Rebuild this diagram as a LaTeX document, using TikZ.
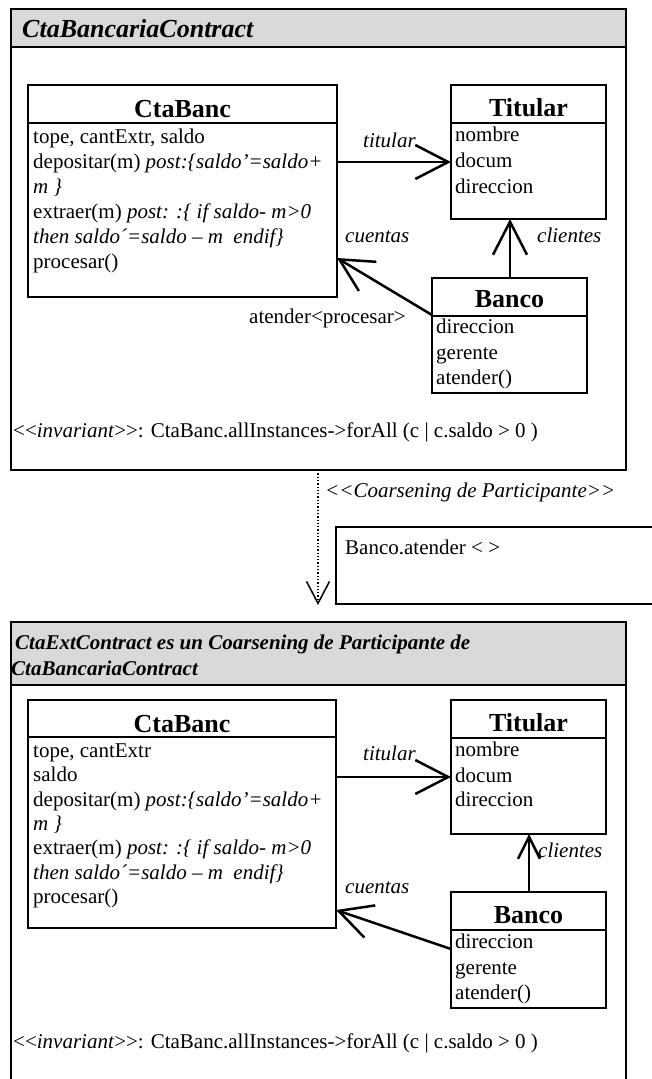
\documentclass[tikz,border=0pt]{standalone}
\usepackage{fontspec}
\setmainfont{Liberation Serif}[Ligatures=TeXOff]
\usetikzlibrary{arrows.meta}
\definecolor{hdrgray}{RGB}{217,217,217}
\begin{document}
\begin{tikzpicture}[x=1pt,y=-1pt,
  pkg/.style={draw, line width=2pt, inner sep=0pt, outer sep=0pt, anchor=north west},
  hdr/.style={fill=hdrgray, draw, line width=2pt, inner sep=0pt, outer sep=0pt, anchor=north west},
  box/.style={draw, line width=2.5pt, inner sep=0pt, outer sep=0pt, anchor=north west},
  sep/.style={line width=2.5pt},
  txt/.style={inner sep=0pt, anchor=base west, font=\fontsize{21}{25}\selectfont},
  ttl/.style={inner sep=0pt, anchor=base, font=\fontsize{26}{30}\selectfont\bfseries},
  lbl/.style={inner sep=0pt, anchor=base west, font=\fontsize{21}{25}\selectfont\itshape},
  ptitle/.style={inner sep=0pt, anchor=base west, font=\fontsize{26}{30}\selectfont\bfseries\itshape},
  ptitlesm/.style={inner sep=0pt, anchor=base west, font=\fontsize{21}{25}\selectfont\bfseries\itshape},
  assoc/.style={line width=2.5pt, -{Straight Barb[length=33pt,width=34pt]}},
  assocsm/.style={line width=2.5pt, -{Straight Barb[length=22pt,width=22pt]}},
  refine/.style={line width=1.3pt, dotted, -{Straight Barb[length=22pt,width=23pt,line width=1.5pt]}},
]
\useasboundingbox (0,0) rectangle (652,1079);
\fill[white] (0,0) rectangle (652,1079);

% ---------- top package ----------
\node[pkg, minimum width=615pt, minimum height=461pt] (pk1) at (11,9) {};
\node[hdr, minimum width=615pt, minimum height=38pt] (pk1h) at (11,9) {};
\node[ptitle] (pk1t) at (22,37) {CtaBancariaContract};

% CtaBanc (top)
\node[box, minimum width=309pt, minimum height=212pt] (cb1) at (28,85) {};
\draw[sep] (28,123) -- (337,123);
\node[ttl] (cb1t) at (182.5,117) {CtaBanc};
\node[txt] (cb1a) at (33,143) {tope, cantExtr, saldo};
\node[txt] (cb1b) at (33,168) {depositar(m) \textit{post:\{saldo’=saldo+}};
\node[txt] (cb1c) at (33,193) {\textit{m \}}};
\node[txt] (cb1d) at (33,218) {extraer(m) \textit{post: :\{ if saldo- m>0}};
\node[txt] (cb1e) at (33,243) {\textit{then saldo´=saldo – m\ \ endif\}}};
\node[txt] (cb1f) at (33,268) {procesar()};

% Titular (top)
\node[box, minimum width=155pt, minimum height=134pt] (ti1) at (451,85) {};
\draw[sep] (451,123) -- (606,123);
\node[ttl] (ti1t) at (528.5,116) {Titular};
\node[txt] (ti1a) at (455,141) {nombre};
\node[txt] (ti1b) at (455,167) {docum};
\node[txt] (ti1c) at (455,193) {direccion};

% Banco (top)
\node[box, minimum width=155pt, minimum height=115pt] (ba1) at (432,278) {};
\draw[sep] (432,316) -- (587,316);
\node[ttl] (ba1t) at (509.5,307) {Banco};
\node[txt] (ba1a) at (436,333) {direccion};
\node[txt] (ba1b) at (436,359) {gerente};
\node[txt] (ba1c) at (436,384) {atender()};

% connectors (top)
\coordinate (c1s) at (337,162);
\coordinate (c1e) at (451,162);
\draw[assoc] (c1s) -- (c1e);
\coordinate (c2s) at (510,278);
\coordinate (c2e) at (510,219);
\draw[assoc] (c2s) -- (c2e);
\coordinate (c3s) at (432,315);
\coordinate (c3e) at (337,258);
\draw[assoc] (c3s) -- (c3e);
\node[lbl] (l1) at (363,147) {titular};
\node[lbl] (l2) at (345,242) {cuentas};
\node[lbl] (l3) at (537,242) {clientes};
\node[txt] (l4) at (249,323) {atender<procesar>};
\node[txt] (inv1) at (13,437) {<<\textit{invariant}>>: CtaBanc.allInstances->forAll (c | c.saldo > 0 )};

% ---------- refinement ----------
\coordinate (r1) at (318,470);
\coordinate (r2) at (318,605);
\draw[refine] (r1) -- (r2);
\node[lbl] (rl) at (325,497) {<<Coarsening de Participante>>};
\draw[line width=2pt] (660,527) -- (336,527) -- (336,604) -- (660,604);
\node[txt] (note) at (345,554) {Banco.atender < >};

% ---------- bottom package ----------
\fill[hdrgray] (11,622) rectangle (626,685);
\draw[line width=2pt] (11,1085) -- (11,622) -- (626,622) -- (626,1085);
\draw[line width=2pt] (11,685) -- (626,685);
\node[ptitlesm] (pk2a) at (15,649) {CtaExtContract es un Coarsening de Participante de};
\node[ptitlesm] (pk2b) at (11,675) {CtaBancariaContract};

% CtaBanc (bottom)
\node[box, minimum width=308pt, minimum height=228pt] (cb2) at (28,700) {};
\draw[sep] (28,737) -- (336,737);
\node[ttl] (cb2t) at (182,732) {CtaBanc};
\node[txt] (cb2a) at (33,757) {tope, cantExtr};
\node[txt] (cb2b) at (33,781) {saldo};
\node[txt] (cb2c) at (33,806) {depositar(m) \textit{post:\{saldo’=saldo+}};
\node[txt] (cb2d) at (33,830) {\textit{m \}}};
\node[txt] (cb2e) at (33,854) {extraer(m) \textit{post: :\{ if saldo- m>0}};
\node[txt] (cb2f) at (33,879) {\textit{then saldo´=saldo – m\ \ endif\}}};
\node[txt] (cb2g) at (33,903) {procesar()};

% Titular (bottom)
\node[box, minimum width=155pt, minimum height=134pt] (ti2) at (451,700) {};
\draw[sep] (451,738) -- (606,738);
\node[ttl] (ti2t) at (528.5,731) {Titular};
\node[txt] (ti2a) at (455,756) {nombre};
\node[txt] (ti2b) at (455,782) {docum};
\node[txt] (ti2c) at (455,806) {direccion};

% Banco (bottom)
\node[box, minimum width=155pt, minimum height=116pt] (ba2) at (451,892) {};
\draw[sep] (451,930) -- (606,930);
\node[ttl] (ba2t) at (528.5,923) {Banco};
\node[txt] (ba2a) at (455,948) {direccion};
\node[txt] (ba2b) at (455,974) {gerente};
\node[txt] (ba2c) at (455,999) {atender()};

% connectors (bottom)
\coordinate (d1s) at (336,777);
\coordinate (d1e) at (451,777);
\draw[assoc] (d1s) -- (d1e);
\coordinate (d2s) at (529,892);
\coordinate (d2e) at (529,834);
\draw[assocsm] (d2s) -- (d2e);
\coordinate (d3s) at (451,949);
\coordinate (d3e) at (336,910);
\draw[assoc] (d3s) -- (d3e);
\node[lbl] (m1) at (363,760) {titular};
\node[lbl] (m2) at (345,893) {cuentas};
\node[lbl] (m3) at (538,857) {clientes};
\node[txt] (inv2) at (13,1048) {<<\textit{invariant}>>: CtaBanc.allInstances->forAll (c | c.saldo > 0 )};
\end{tikzpicture}
\end{document}
